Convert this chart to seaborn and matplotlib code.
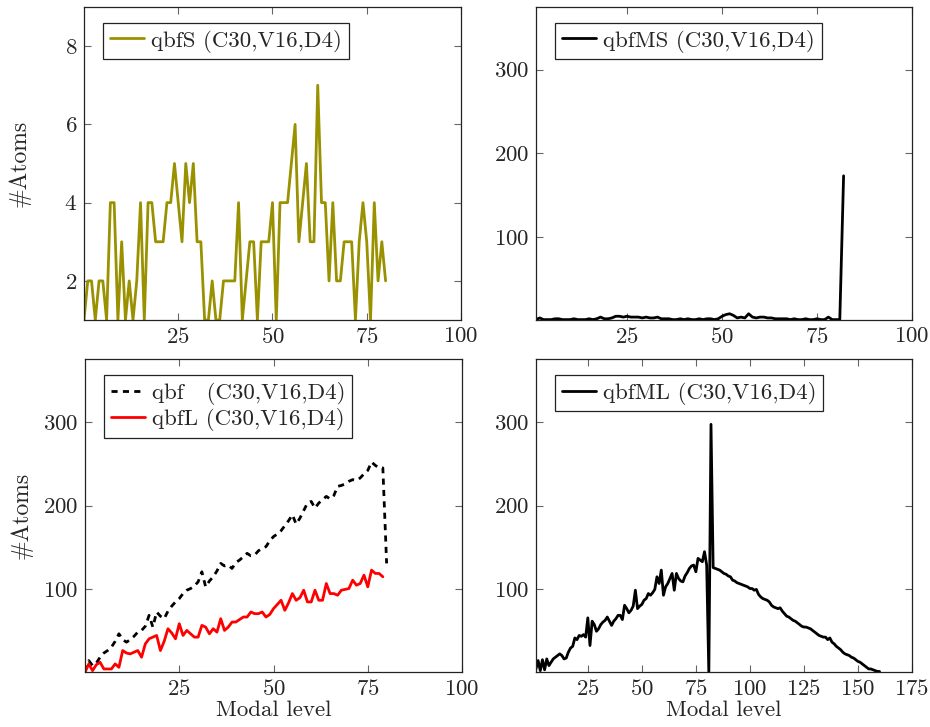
import numpy as np
import pandas as pd
import seaborn as sns
import matplotlib.pyplot as plt

# values
qbfS = [1, 2, 2, 1, 2, 2, 1, 4, 4, 1, 3, 1, 2, 1, 2, 4, 1, 4, 4, 3,
        3, 3, 4, 4, 5, 4, 3, 5, 4, 5, 3, 3, 1, 1, 2, 1, 1, 2, 2, 2,
        2, 4, 1, 2, 3, 3, 1, 3, 3, 3, 4, 1, 4, 4, 4, 5, 6, 3, 4, 5,
        3, 3, 7, 4, 4, 2, 4, 2, 2, 3, 3, 3, 1, 3, 4, 3, 1, 4, 2, 3, 2]

qbfMS = [1, 3, 1, 1, 1, 2, 2, 1, 1, 1, 2, 1, 1, 1, 2, 1, 2, 4, 2, 2,
         3, 5, 5, 4, 5, 4, 4, 4, 3, 4, 3, 3, 4, 2, 2, 2, 1, 1, 2, 1,
         2, 1, 1, 2, 1, 2, 2, 1, 2, 5, 7, 8, 6, 3, 4, 3, 8, 4, 3, 4,
         4, 3, 3, 2, 2, 2, 2, 1, 2, 1, 1, 2, 1, 1, 2, 1, 1, 4, 1, 1,
         1, 173]

qbf = [2, 15, 9, 12, 19, 24, 27, 31, 38, 47, 40, 37, 40, 44, 49, 51, 56, 69, 55, 73,
       68, 65, 74, 80, 85, 89, 95, 99, 101, 104, 109, 121, 103, 110, 115, 122, 131, 128, 129, 125,
       132, 135, 139, 143, 140, 141, 146, 149, 151, 158, 163, 166, 170, 176, 182, 189, 178, 185, 194, 203,
       205, 197, 203, 207, 211, 208, 212, 223, 224, 226, 229, 231, 230, 233, 238, 242, 252, 248, 245, 245,
       131]

qbfL = [1, 11, 3, 10, 13, 5, 5, 5, 11, 7, 27, 24, 23, 25, 27, 19, 35, 41, 43, 45,
        27, 38, 53, 48, 41, 59, 45, 51, 47, 43, 43, 57, 55, 47, 53, 49, 65, 51, 55, 61,
        61, 64, 67, 67, 73, 71, 71, 73, 67, 70, 77, 82, 87, 75, 84, 95, 87, 90, 99, 85,
        85, 99, 87, 87, 107, 95, 95, 93, 99, 100, 101, 111, 105, 107, 117, 103, 123, 119, 119, 115]

qbfML = [5, 15, 3, 16, 4, 17, 9, 13, 17, 19, 21, 23, 21, 17, 18, 25, 30, 32, 42, 40,
         45, 44, 46, 43, 66, 33, 62, 58, 50, 53, 58, 61, 63, 67, 62, 57, 62, 65, 69, 69,
         64, 81, 77, 72, 75, 80, 99, 77, 80, 82, 87, 89, 95, 93, 96, 100, 115, 107, 123, 93,
         103, 107, 113, 119, 99, 119, 113, 110, 109, 116, 120, 125, 128, 129, 121, 137, 135, 133, 145, 129,
         0, 297, 126, 125, 124, 123, 121, 119, 118, 116, 115, 111, 110, 108, 107, 106, 105, 104, 103, 101,
         101, 99, 100, 94, 91, 89, 88, 87, 85, 81, 79, 78, 77, 78, 74, 71, 68, 67, 65, 63,
         62, 60, 58, 56, 55, 55, 54, 53, 51, 49, 47, 45, 44, 43, 43, 40, 42, 37, 35, 32,
         30, 28, 25, 23, 22, 21, 19, 18, 16, 14, 13, 11, 9, 7, 5, 5, 4, 3, 2, 2]

sns.set_style("ticks")
plt.rcParams["font.family"] = "serif"
plt.rcParams["font.serif"] = ["cmr10", "DejaVu Serif"]
plt.rcParams["axes.formatter.use_mathtext"] = True

FS = 16.5
OLIVE = "#999100"

fig = plt.figure(figsize=(9.3, 7.27), dpi=100)
ax_tl = fig.add_axes([0.0903, 0.5598, 0.4054, 0.4306])
ax_tr = fig.add_axes([0.5763, 0.5598, 0.4043, 0.4306])
ax_bl = fig.add_axes([0.0914, 0.0750, 0.4054, 0.4312])
ax_br = fig.add_axes([0.5763, 0.0750, 0.4043, 0.4312])

df_s = pd.DataFrame({"x": np.arange(len(qbfS)), "y": qbfS})
sns.lineplot(data=df_s, x="x", y="y", ax=ax_tl, color=OLIVE, lw=2,
             label="qbfS (C30,V16,D4)")

df_ms = pd.DataFrame({"x": np.arange(1, len(qbfMS) + 1), "y": qbfMS})
sns.lineplot(data=df_ms, x="x", y="y", ax=ax_tr, color="black", lw=2,
             label="qbfMS (C30,V16,D4)")

df_q = pd.DataFrame({"x": np.arange(len(qbf)), "y": qbf})
df_l = pd.DataFrame({"x": np.arange(len(qbfL)), "y": qbfL})
sns.lineplot(data=df_q, x="x", y="y", ax=ax_bl, color="black", lw=2,
             label="qbf   (C30,V16,D4)")
ax_bl.lines[-1].set_dashes([2.2, 1.9])
sns.lineplot(data=df_l, x="x", y="y", ax=ax_bl, color="red", lw=2,
             label="qbfL (C30,V16,D4)")

df_ml = pd.DataFrame({"x": np.arange(1, len(qbfML) + 1), "y": qbfML})
sns.lineplot(data=df_ml, x="x", y="y", ax=ax_br, color="black", lw=2,
             label="qbfML (C30,V16,D4)")

ax_tl.set_xlim(0, 100)
ax_tl.set_ylim(1, 9)
ax_tl.set_xticks([25, 50, 75, 100])
ax_tl.set_yticks([2, 4, 6, 8])

ax_tr.set_xlim(1, 100)
ax_tr.set_ylim(0.5, 375)
ax_tr.set_xticks([25, 50, 75, 100])
ax_tr.set_yticks([100, 200, 300])

ax_bl.set_xlim(0, 100)
ax_bl.set_ylim(0.8, 375)
ax_bl.set_xticks([25, 50, 75, 100])
ax_bl.set_yticks([100, 200, 300])

ax_br.set_xlim(1, 175)
ax_br.set_ylim(0.8, 375)
ax_br.set_xticks([25, 50, 75, 100, 125, 150, 175])
ax_br.set_yticks([100, 200, 300])

for ax in [ax_tl, ax_tr, ax_bl, ax_br]:
    ax.set_xlabel("")
    ax.set_ylabel("")
    for sp in ax.spines.values():
        sp.set_visible(True)
        sp.set_linewidth(0.9)
        sp.set_color("#222222")
    ax.tick_params(direction="in", top=True, right=True, length=5,
                   width=0.8, color="#666666", labelsize=FS, pad=5)
    leg = ax.legend(loc="upper left", bbox_to_anchor=(0.05, 0.95),
                    borderaxespad=0, fancybox=False, framealpha=1,
                    edgecolor="#222222", fontsize=FS, handlelength=1.5,
                    handletextpad=0.3, borderpad=0.3, labelspacing=0.15)
    leg.get_frame().set_linewidth(0.9)

# both y labels sit at the same place, left of the tick labels
for ax in [ax_tl, ax_bl]:
    ax.set_ylabel("#Atoms", fontsize=FS + 0.5)
    ax.yaxis.set_label_coords(-0.14, 0.5)
ax_bl.set_xlabel("Modal level", fontsize=FS, labelpad=1)
ax_br.set_xlabel("Modal level", fontsize=FS, labelpad=1)

fig.savefig("out.png", dpi=100)
